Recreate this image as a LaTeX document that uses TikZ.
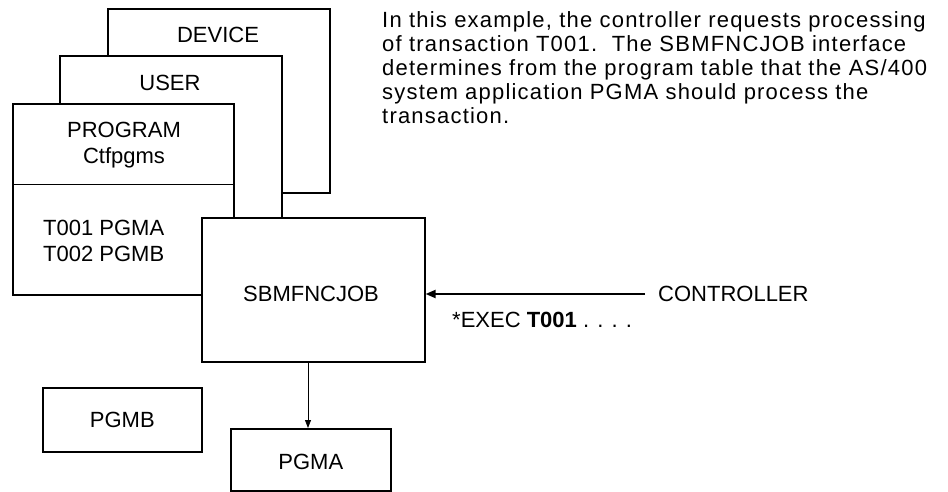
\documentclass[tikz,border=0pt]{standalone}
\usepackage{fontspec}
\setmainfont{Liberation Sans}
\newfontfamily\parafont{Liberation Sans}[LetterSpace=5.5]
\usetikzlibrary{arrows.meta}
\tikzset{
  box/.style={draw, line width=1.6pt, fill=white, rectangle, inner sep=0pt, anchor=north west},
  lbl/.style={font=\fontsize{22}{26}\selectfont, inner sep=0pt},
  flow/.style={line width=0.8pt, -{Triangle[length=8pt,width=6pt]}},
  request/.style={line width=2pt, -{Triangle[length=10pt,width=8pt]}}
}
\begin{document}
\begin{tikzpicture}[x=1pt,y=-1pt]
\useasboundingbox (0,0) rectangle (948,492);

% stacked tables, back to front
\node[box, minimum width=222pt, minimum height=184pt] (device) at (107,8) {};
\node[lbl] (devlbl) at (218,35) {DEVICE};

\node[box, minimum width=222pt, minimum height=195pt] (user) at (59,55) {};
\node[lbl] (userlbl) at (170,83) {USER};

\node[box, minimum width=221pt, minimum height=191pt] (program) at (12,103) {};
\coordinate (div) at (0,184);
\draw[line width=0.8pt] (program.west |- div) -- (program.east |- div);
\node[lbl, align=center] (proglbl) at (124,145) {PROGRAM\\Ctfpgms};
\node[lbl, align=left, anchor=west] (tablelbl) at (43,241) {T001 PGMA\\T002 PGMB};

% interface job
\node[box, minimum width=223pt, minimum height=144pt] (sbm) at (201,217) {};
\node[lbl] (sbmlbl) at (311,294) {SBMFNCJOB};

% application programs
\node[box, minimum width=159pt, minimum height=64pt] (pgmb) at (42,387) {};
\node[lbl] (pgmblbl) at (pgmb.center) {PGMB};
\node[box, minimum width=160pt, minimum height=62pt] (pgma) at (230,428) {};
\node[lbl] (pgmalbl) at ([yshift=-2pt]pgma.center) {PGMA};

\coordinate (ax) at (308,0);
\draw[flow] (sbm.south -| ax) -- (pgma.north -| ax);

% controller request
\node[lbl, anchor=west] (ctrl) at (658,294) {CONTROLLER};
\draw[request, shorten <=13pt] (ctrl.west) -- (sbm.east |- ctrl.west);
\node[lbl, anchor=base west] (exec) at (452,327) {*EXEC \textbf{T001} . . . .};

% explanatory text
\node[anchor=north west, inner sep=0pt, align=left,
      font=\parafont\fontsize{22}{24}\selectfont] (para) at (382,11)
  {In this example, the controller requests processing\\
   of transaction T001.\ \ The SBMFNCJOB interface\\
   determines from the program table that the AS/400\\
   system application PGMA should process the\\
   transaction.};
\end{tikzpicture}
\end{document}
